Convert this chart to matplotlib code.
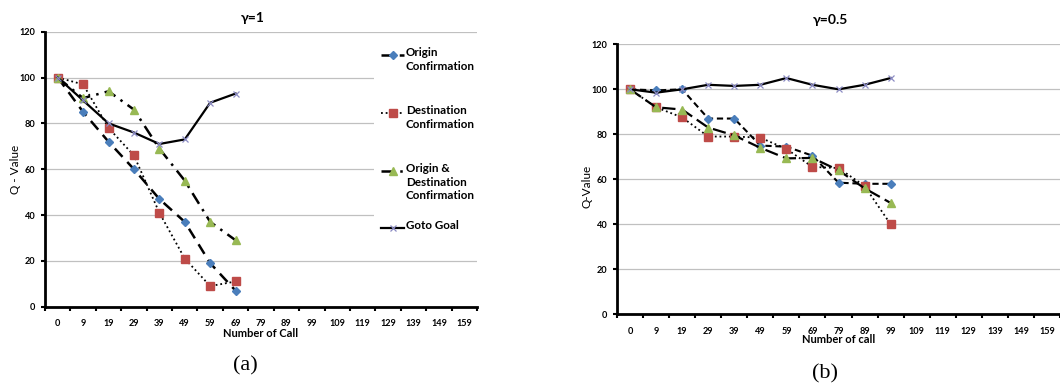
import matplotlib
matplotlib.use("Agg")
import matplotlib.pyplot as plt
from matplotlib.lines import Line2D
from matplotlib.patches import Rectangle

# --- data -------------------------------------------------------------
calls = ["0", "9", "19", "29", "39", "49", "59", "69", "79", "89",
         "99", "109", "119", "129", "139", "149", "159"]
yticks = [0, 20, 40, 60, 80, 100, 120]

# gamma = 1
g1_origin = [100, 85, 72, 60, 47, 37, 19, 7]
g1_dest = [100, 97, 78, 66, 41, 21, 9, 11]
g1_both = [100, 91, 94, 86, 69, 55, 37, 29]
g1_goto = [100, 90, 80, 76, 71, 73, 89, 93]

# gamma = 0.5
g2_origin = [100, 99.5, 100, 87, 87, 75, 74.5, 70.5, 58.5, 58, 58]
g2_dest = [100, 92, 87.5, 79, 79, 78.5, 73.5, 65.5, 65, 57, 40]
g2_both = [100, 92, 91, 83, 79.5, 74, 69.3, 69.5, 64, 56, 49.5]
g2_goto = [100, 98.5, 100, 102, 101.5, 102, 105, 102, 100, 102, 105]

labels = ["Origin\nConfirmation", "Destination\nConfirmation",
          "Origin &\nDestination\nConfirmation", "Goto Goal"]

BLUE, RED, GREEN, XCOL = "#4A7EBB", "#BE4B48", "#98B954", "#8C8CC4"
W, H = 1060, 386
FONT = ["Lato", "DejaVu Sans"]


def fx(x):
    return x / W


def fy(y):
    return 1 - y / H


fig = plt.figure(figsize=(W / 100, H / 100), dpi=100)
fig.patch.set_facecolor("white")


def setup(ax, ylabel):
    ax.set_xlim(-0.5, 16.5)
    ax.set_ylim(0, 120)
    ax.set_yticks(yticks)
    ax.set_yticklabels([str(v) for v in yticks], fontsize=6.6,
                       fontweight="bold", family=FONT)
    ax.set_xticks(range(len(calls)))
    ax.set_xticklabels(calls, fontsize=6.6, fontweight="bold", family=FONT)
    ax.set_xticks([i - 0.5 for i in range(len(calls) + 1)], minor=True)
    ax.tick_params(axis="x", which="major", length=0, pad=9)
    ax.tick_params(axis="x", which="minor", length=3, width=1.5,
                   direction="out", color="black")
    ax.tick_params(axis="y", length=3, width=1.5, direction="out", pad=4)
    ax.grid(axis="y", color="#C0C0C0", lw=0.9)
    ax.set_axisbelow(True)
    for s in ("top", "right"):
        ax.spines[s].set_visible(False)
    for s in ("left", "bottom"):
        ax.spines[s].set_linewidth(2)
    ax.set_ylabel(ylabel, fontsize=8.5, family=FONT)


# ---- (a) gamma = 1 ----
ax1 = fig.add_axes([fx(45), fy(306.7), fx(432), 275 / H])
setup(ax1, "Q - Value")
ax1.yaxis.set_label_coords(-0.055, 0.5)
ax1.plot(range(len(g1_origin)), g1_origin, color="black", lw=1.8,
         dashes=(4.5, 2.8), marker="D", ms=3.6, mfc=BLUE, mec=BLUE)
ax1.plot(range(len(g1_dest)), g1_dest, color="black", lw=1.3,
         dashes=(1, 1.6), marker="s", ms=5.5, mfc=RED, mec=RED)
ax1.plot(range(len(g1_both)), g1_both, color="black", lw=1.8,
         dashes=(5, 2.5, 1, 2.5), marker="^", ms=5.5, mfc=GREEN, mec=GREEN)
ax1.plot(range(len(g1_goto)), g1_goto, color="black", lw=1.6,
         marker="x", ms=5, mec=XCOL, mew=0.9)
ax1.set_xlabel("Number of Call", fontsize=8, fontweight="bold",
               family=FONT, labelpad=0)

# legend (a): white box over gridlines, handles aligned to first text line
fig.patches.append(Rectangle((fx(374), fy(252)), fx(105), (252 - 38) / H,
                             transform=fig.transFigure, facecolor="white",
                             edgecolor="none", zorder=2))
styles = [dict(dashes=(4.5, 2.8), lw=1.8, marker="D", ms=3.6, mfc=BLUE, mec=BLUE),
          dict(dashes=(1, 1.6), lw=1.3, marker="s", ms=5.5, mfc=RED, mec=RED),
          dict(dashes=(5, 2.5, 1, 2.5), lw=1.8, marker="^", ms=5.5, mfc=GREEN, mec=GREEN),
          dict(lw=1.6, marker="x", ms=5, mec=XCOL, mew=0.9)]
leg_y = [55, 113, 171, 228]
for lab, st, y in zip(labels, styles, leg_y):
    fig.add_artist(Line2D([fx(381), fx(404)], [fy(y), fy(y)], color="black",
                          transform=fig.transFigure, zorder=3,
                          **{k: v for k, v in st.items()
                             if k in ("dashes", "lw")}))
    fig.add_artist(Line2D([fx(392.5)], [fy(y)], transform=fig.transFigure,
                          linestyle="none", zorder=4,
                          **{k: v for k, v in st.items()
                             if k not in ("dashes", "lw")}))
    fig.text(fx(406), fy(y - 8), lab, fontsize=8.4, fontweight="bold",
             family=FONT, va="top", ha="left", linespacing=1.3, zorder=4)

fig.text(fx(253), fy(18), "γ=1", fontsize=10, fontweight="bold",
         family=FONT, ha="center", va="center")
fig.text(fx(245), fy(366), "(a)", fontsize=16, family="Liberation Serif",
         ha="center", va="center")

# ---- (b) gamma = 0.5 ----
ax2 = fig.add_axes([fx(617), fy(314.3), fx(443), 270 / H])
setup(ax2, "Q-Value")
ax2.yaxis.set_label_coords(-0.055, 0.475)
ax2.plot(range(len(g2_origin)), g2_origin, color="black", lw=1.5,
         dashes=(3, 1.8), marker="D", ms=3.6, mfc=BLUE, mec=BLUE)
ax2.plot(range(len(g2_dest)), g2_dest, color="black", lw=1.3,
         dashes=(1, 1.6), marker="s", ms=5.5, mfc=RED, mec=RED)
ax2.plot(range(len(g2_both)), g2_both, color="black", lw=1.6,
         dashes=(6, 2.5), marker="^", ms=5.5, mfc=GREEN, mec=GREEN)
ax2.plot(range(len(g2_goto)), g2_goto, color="black", lw=1.6,
         marker="x", ms=5, mec=XCOL, mew=0.9)
ax2.set_xlabel("Number of call", fontsize=8, fontweight="bold",
               family=FONT, labelpad=-1.5)

fig.text(fx(830), fy(20), "γ=0.5", fontsize=10, fontweight="bold",
         family=FONT, ha="center", va="center")
fig.text(fx(825), fy(374), "(b)", fontsize=16, family="Liberation Serif",
         ha="center", va="center")

fig.savefig("out.png", dpi=100, facecolor="white")
